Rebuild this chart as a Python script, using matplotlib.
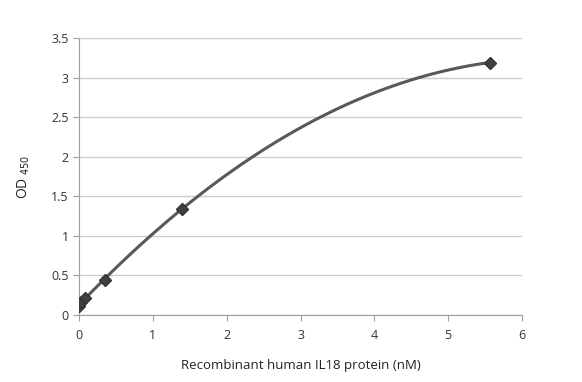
import numpy as np
import matplotlib.pyplot as plt

plt.rcParams['font.family'] = ['Open Sans', 'DejaVu Sans']

# standard curve, 4-fold dilution series
conc_nM = [0.0, 0.0217, 0.0868, 0.347, 1.39, 5.56]
od450 = [0.12, 0.16, 0.22, 0.44, 1.34, 3.19]

x_ticks = [0, 1, 2, 3, 4, 5, 6]
y_ticks = [0, 0.5, 1, 1.5, 2, 2.5, 3, 3.5]
y_tick_labels = ["0", "0.5", "1", "1.5", "2", "2.5", "3", "3.5"]

fig = plt.figure(figsize=(5.82, 3.82), dpi=100)
ax = fig.add_axes([0.1357, 0.1754, 0.7613, 0.7251])

# 2nd-order polynomial trendline (like Excel)
coef = np.polyfit(conc_nM, od450, 2)
xs = np.linspace(min(conc_nM), max(conc_nM), 200)
ax.plot(xs, np.polyval(coef, xs), color="#595959", linewidth=2.2, zorder=3)

ax.plot(conc_nM, od450, linestyle="none", marker="D", markersize=6.5,
        color="#404040", markeredgecolor="#333333", zorder=4)

ax.set_xlim(0, 6)
ax.set_ylim(0, 3.5)
ax.set_xticks(x_ticks)
ax.set_yticks(y_ticks)
ax.set_yticklabels(y_tick_labels)

ax.grid(axis="y", color="#cccccc", linewidth=1)
ax.set_axisbelow(True)
for side in ["top", "right"]:
    ax.spines[side].set_visible(False)
for side in ["left", "bottom"]:
    ax.spines[side].set_color("#a0a0a0")
ax.tick_params(axis="both", colors="#a0a0a0", labelcolor="#333333",
               labelsize=9, length=4, direction="out")
ax.tick_params(axis="x", pad=6)

ax.set_xlabel("Recombinant human IL18 protein (nM)", fontsize=9.5, color="#222222",
              labelpad=12)
ax.set_ylabel("OD $_{450}$", fontsize=10, color="#222222", labelpad=14)

plt.savefig("out.png", dpi=100)
